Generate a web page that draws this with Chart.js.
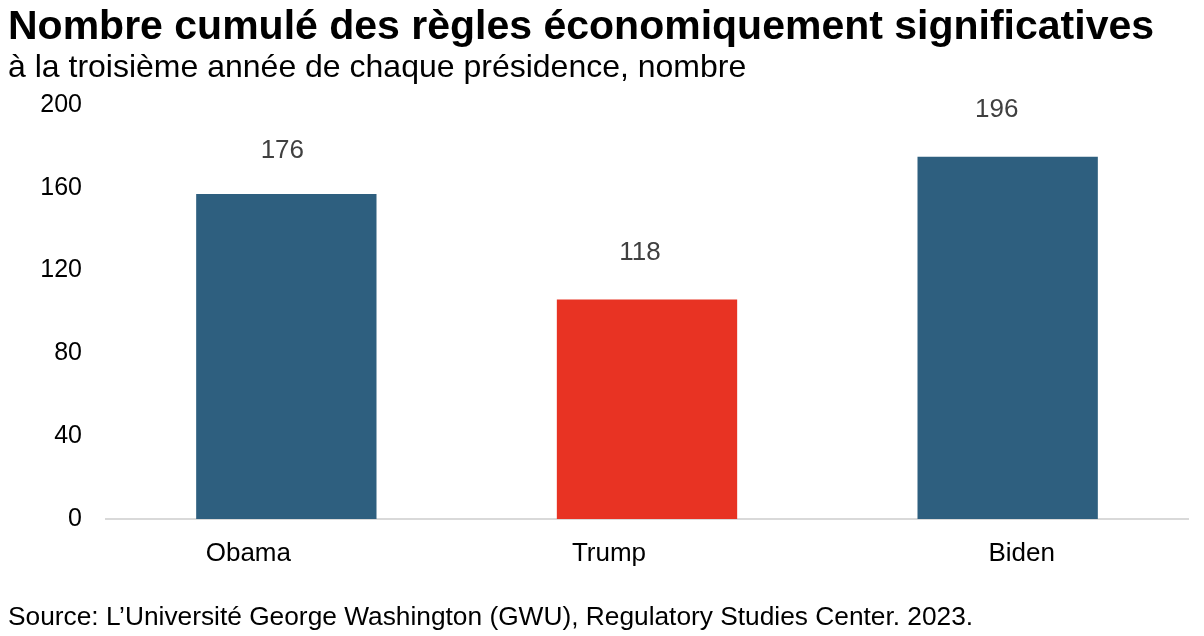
<!DOCTYPE html>
<html>
<head>
<meta charset="utf-8">
<script src="https://cdn.jsdelivr.net/npm/chart.js@4"></script>
<style>
  html, body { margin: 0; padding: 0; background: #fff; }
  body { width: 1204px; height: 636px; position: relative; overflow: hidden; font-family: "Liberation Sans", Arial, sans-serif; color: #000; }
  .txt { position: absolute; left: 8px; line-height: 1; white-space: nowrap; }
  #titre { top: 5px; font-size: 41px; font-weight: bold; }
  #soustitre { top: 50px; font-size: 32px; }
  #source { top: 603px; font-size: 26.3px; }
  #graph { position: absolute; left: 0; top: 0; }
</style>
</head>
<body>
<canvas id="graph" width="1204" height="636"></canvas>
<div class="txt" id="titre">Nombre cumulé des règles économiquement significatives</div>
<div class="txt" id="soustitre">à la troisième année de chaque présidence, nombre</div>
<div class="txt" id="source">Source: L’Université George Washington (GWU), Regulatory Studies Center. 2023.</div>
<script>
/* données */
const presidents = ["Obama", "Trump", "Biden"];
const hauteurs = [157, 106, 175];
// valeurs affichées au-dessus des barres
const etiquettes = [176, 118, 196];
const ticksY = [0, 40, 80, 120, 160, 200];
const couleurs = ["#2e5f7f", "#e83323", "#2e5f7f"];

/* décalages (px) comme sur l'original, qui n'est pas centré */
const decalCategories = [-38, -38, 14];
const decalEtiquettes = [[-4, -43], [-7, -47], [-11, -47]];
const police = "'Liberation Sans', Arial, sans-serif";

/* étiquettes au-dessus des barres + noms sous l'axe */
const etiquettesPlugin = {
  id: "etiquettes",
  afterDatasetsDraw(chart) {
    const ctx = chart.ctx;
    const meta = chart.getDatasetMeta(0);
    const x = chart.scales.x;
    ctx.save();
    ctx.textAlign = "center";
    ctx.textBaseline = "middle";
    meta.data.forEach((bar, i) => {
      ctx.font = "26px " + police;
      ctx.fillStyle = "#404040";
      ctx.fillText(String(etiquettes[i]), bar.x + decalEtiquettes[i][0], bar.y + decalEtiquettes[i][1]);
      ctx.fillStyle = "#000";
      ctx.fillText(presidents[i], x.getPixelForTick(i) + decalCategories[i], x.top + 35);
    });
    ctx.restore();
  },
};

const graph = document.getElementById("graph");

new Chart(graph, {
  type: "bar",
  data: {
    labels: presidents,
    datasets: [
      {
        data: hauteurs,
        backgroundColor: couleurs,
        borderWidth: 0,
        barPercentage: 0.5,
        categoryPercentage: 1,
      },
    ],
  },
  options: {
    responsive: false,
    animation: false,
    devicePixelRatio: 1,
    layout: { padding: { top: 105, right: 16, bottom: 0, left: 0 } },
    plugins: {
      legend: { display: false },
      tooltip: { enabled: false },
    },
    scales: {
      x: {
        grid: { display: false, drawTicks: false },
        border: { display: true, color: "#d9d9d9", width: 2 },
        ticks: { display: false },
        afterFit(scale) {
          scale.height = 117;
        },
      },
      y: {
        min: 0,
        max: 200,
        grid: { display: false, drawTicks: false },
        border: { display: false },
        afterBuildTicks(scale) {
          scale.ticks = ticksY.map((v) => ({ value: v }));
        },
        ticks: {
          padding: 24,
          color: "#000",
          font: { family: police, size: 25 },
        },
        afterFit(scale) {
          scale.width = 106;
        },
      },
    },
  },
  plugins: [etiquettesPlugin],
});
</script>
</body>
</html>
